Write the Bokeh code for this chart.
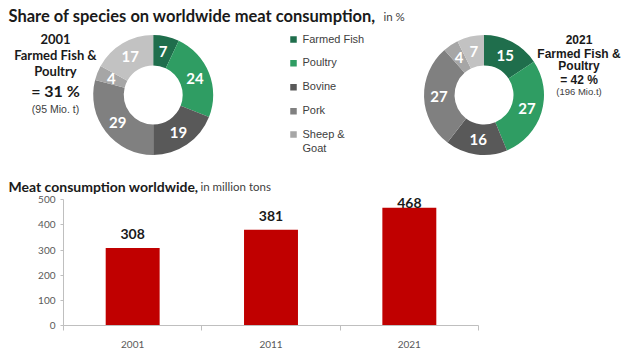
import math
from bokeh.plotting import figure
from bokeh.models import Range1d, ColumnDataSource, FixedTicker
from bokeh.embed import file_html
from bokeh.resources import INLINE
from bokeh.core.properties import value

# ---------------- data ----------------
species = ["Farmed Fish", "Poultry", "Bovine", "Pork", "Sheep & Goat", "Other"]
share_2001 = [7, 24, 19, 29, 4, 17]
share_2021 = [15, 27, 16, 27, 4, 7]
legend_labels = ["Farmed Fish", "Poultry", "Bovine", "Pork", "Sheep &\nGoat"]

years = ["2001", "2011", "2021"]
consumption = [308, 381, 468]
y_ticks = [0, 100, 200, 300, 400, 500]

# ---------------- styles ----------------
colors = ["#1f6e4c", "#2f9d63", "#595959", "#808080", "#a6a6a6", "#c2c2c2"]
legend_colors = colors[:5]
bar_color = "#c00000"
axis_color = "#bfbfbf"
CAL = "Lato"
ARIAL = "Liberation Sans"

W = 622
H1 = 194
H2 = 156

# ---------------- top: donuts ----------------
p1 = figure(width=W, height=H1, x_range=Range1d(0, W), y_range=Range1d(0, H1),
            output_backend="svg", toolbar_location=None,
            x_axis_location=None, y_axis_location=None, min_border=0)
p1.grid.visible = False
p1.outline_line_color = None
p1.background_fill_color = "white"
p1.border_fill_color = "white"


def py(v):
    return H1 - v


def donut(cx, cy, vals):
    total = float(sum(vals))
    starts, ends, lx, ly = [], [], [], []
    cum = 0.0
    for v in vals:
        a0 = math.pi / 2 - 2 * math.pi * cum / total
        a1 = math.pi / 2 - 2 * math.pi * (cum + v) / total
        starts.append(a0)
        ends.append(a1)
        mid = (a0 + a1) / 2
        lx.append(cx + 45 * math.cos(mid))
        ly.append(py(cy) + 45 * math.sin(mid))
        cum += v
    src = ColumnDataSource(dict(start=starts, end=ends, color=colors,
                                lx=lx, ly=ly, txt=[str(v) for v in vals],
                                species=species))
    p1.annular_wedge(x=cx, y=py(cy), inner_radius=29.5, outer_radius=60,
                     inner_radius_units="screen", outer_radius_units="screen",
                     start_angle="start", end_angle="end", direction="clock",
                     fill_color="color", line_color=None, source=src)
    p1.text(x="lx", y="ly", text="txt", source=src, text_color="white",
            text_font=value(CAL), text_font_style="bold",
            text_font_size="15px", text_align="center", text_baseline="middle")


donut(152.7, 94.5, share_2001)
donut(483.5, 94.5, share_2021)

# legend
leg_y = [39, 62.7, 86.7, 110.7, 134]
p1.scatter(x=[293] * 5, y=[py(v) for v in leg_y], marker="square", size=6.5,
           color=legend_colors, line_color=None)
p1.text(x=[302] * 5, y=[py(v - 6.8) for v in leg_y], text=legend_labels,
        text_font=value(ARIAL), text_font_size="11px", text_color="#404040",
        text_align="left", text_baseline="top", text_line_height=1.2)

# titles
p1.text(x=[8], y=[py(15.5)], text=["Share of species on worldwide meat consumption,"],
        text_font=value(CAL), text_font_style="bold", text_font_size="16.5px",
        text_color="#1a1a1a", text_baseline="alphabetic")
p1.text(x=[383], y=[py(15.5)], text=["in %"], text_font=value(CAL),
        text_font_size="11.5px", text_color="#404040", text_baseline="alphabetic")
p1.text(x=[8], y=[py(186)], text=["Meat consumption worldwide,"],
        text_font=value(CAL), text_font_style="bold", text_font_size="14px",
        text_color="#1a1a1a", text_baseline="alphabetic")
p1.text(x=[200], y=[py(186)], text=["in million tons"], text_font=value(CAL),
        text_font_size="11.5px", text_color="#404040", text_baseline="alphabetic")

# side annotations
ff_2001 = share_2001[0] + share_2001[1]
ff_2021 = share_2021[0] + share_2021[1]
mio_2001 = int(consumption[0] * ff_2001 / 100)
mio_2021 = int(consumption[2] * ff_2021 / 100)

left_txt = [years[0], "Farmed Fish &", "Poultry", f"= {ff_2001} %", f"({mio_2001} Mio. t)"]
left_y = [38, 54, 70, 90, 108]
left_size = ["13px", "13px", "13px", "16px", "10.5px"]
left_style = ["bold", "bold", "bold", "bold", "normal"]
left_font = [CAL, CAL, CAL, CAL, ARIAL]
for t, yy, s, st, f in zip(left_txt, left_y, left_size, left_style, left_font):
    p1.text(x=[55], y=[py(yy)], text=[t], text_font=value(f), text_font_style=st,
            text_font_size=s, text_color="#1a1a1a" if st == "bold" else "#404040",
            text_align="center", text_baseline="middle")

right_txt = [years[2], "Farmed Fish &", "Poultry", f"= {ff_2021} %", f"({mio_2021} Mio.t)"]
right_y = [39, 53, 65.5, 79, 91]
right_size = ["12px", "12px", "12px", "12px", "9.5px"]
right_style = ["bold", "bold", "bold", "bold", "normal"]
for t, yy, s, st in zip(right_txt, right_y, right_size, right_style):
    p1.text(x=[578.5], y=[py(yy)], text=[t], text_font=value(ARIAL), text_font_style=st,
            text_font_size=s, text_color="#1a1a1a" if st == "bold" else "#404040",
            text_align="center", text_baseline="middle")

# ---------------- bottom: bars ----------------
Y_TOP = 521  # headroom above the 500 tick for the value labels
p2 = figure(width=W, height=H2, x_range=Range1d(0, len(years)), y_range=Range1d(0, Y_TOP),
            output_backend="svg", toolbar_location=None,
            min_border_left=63, min_border_right=144, min_border_top=0, min_border_bottom=25)
p2.grid.visible = False
p2.outline_line_color = None
p2.background_fill_color = "white"
p2.border_fill_color = "white"

xpos = [i + 0.5 for i in range(len(years))]
label_y = [min(v + 55, 487) for v in consumption]
bsrc = ColumnDataSource(dict(x=xpos, top=consumption, year=years,
                             ly=label_y, lbl=[str(v) for v in consumption]))
p2.vbar(x="x", top="top", width=0.39, source=bsrc, fill_color=bar_color, line_color=None)
p2.text(x="x", y="ly", text="lbl", source=bsrc, text_align="center",
        text_baseline="middle", text_font=value(CAL), text_font_style="bold",
        text_font_size="14px", text_color="#1a1a1a")

xa = p2.xaxis[0]
xa.ticker = FixedTicker(ticks=xpos, minor_ticks=list(range(len(years) + 1)))
xa.major_label_overrides = {x: y for x, y in zip(xpos, years)}
xa.axis_line_color = axis_color
xa.major_tick_line_color = None
xa.major_tick_out = 0
xa.major_tick_in = 0
xa.minor_tick_line_color = axis_color
xa.minor_tick_out = 5
xa.minor_tick_in = 0
xa.major_label_standoff = 10
xa.major_label_text_font = CAL
xa.major_label_text_font_size = "10px"
xa.major_label_text_color = "#595959"

ya = p2.yaxis[0]
ya.ticker = FixedTicker(ticks=y_ticks)
ya.bounds = (y_ticks[0], y_ticks[-1])
ya.axis_line_color = axis_color
ya.major_tick_line_color = axis_color
ya.major_tick_out = 3
ya.major_tick_in = 0
ya.minor_tick_line_color = None
ya.major_label_standoff = 5
ya.major_label_text_font = CAL
ya.major_label_text_font_size = "10px"
ya.major_label_text_color = "#595959"

p = [p1, p2]
open("out.html", "w").write(file_html(p, INLINE))
